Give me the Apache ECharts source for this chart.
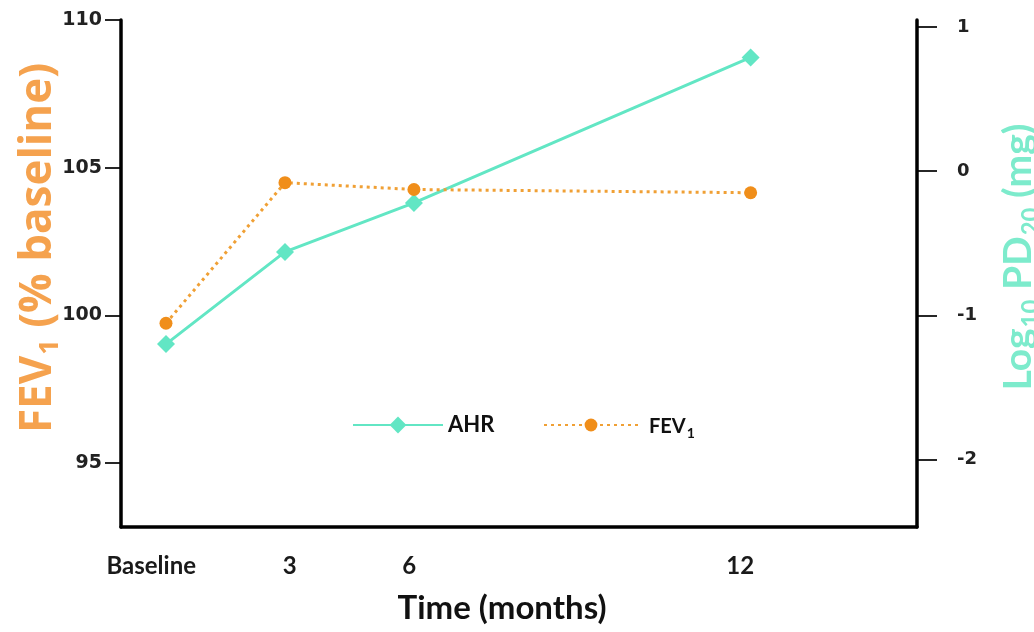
<!DOCTYPE html>
<html><head><meta charset="utf-8">
<script src="https://cdn.jsdelivr.net/npm/echarts@6/dist/echarts.min.js"></script>
<style>html,body{margin:0;padding:0;background:#fff}#c{width:1034px;height:632px}</style>
</head><body><div id="c"></div><script>
// ---- data ----
const categories = ['Baseline', '3', '6', '12'];
const fev1 = [99.73, 104.49, 104.26, 104.15];   // FEV1 (% baseline), left axis
const ahr = [-1.2, -0.56, -0.22, 0.79];          // Log10 PD20 (mg), right axis
const leftTicks = [95, 100, 105, 110];
const rightTicks = [-2, -1, 0, 1];

// ---- layout (horizontal slot of each time point, 0-100 across the plot) ----
const pointSlot = [5.65, 20.6, 36.8, 79.1];
const labelSlot = [3.8, 21.2, 36.2, 77.8];

const TEAL = '#62e6c4';
const TEAL_T = '#7debcc';
const ORANGE = '#f0a035';
const ORANGE_M = '#f08e1a';
const ORANGE_T = '#f5a24e';
const CAL = 'Lato, "Open Sans", sans-serif';
const WIDE = '"Open Sans", Lato, sans-serif';

const chart = echarts.init(document.getElementById('c'), null, {renderer: 'canvas'});
chart.setOption({
  animation: false,
  backgroundColor: '#fff',
  grid: {left: 121, right: 117, top: 20, bottom: 105, containLabel: false},
  xAxis: {
    type: 'value', min: 0, max: 100,
    axisLine: {show: true, onZero: false, lineStyle: {color: '#000', width: 3.5}},
    axisTick: {show: false},
    splitLine: {show: false},
    axisLabel: {
      customValues: labelSlot,
      margin: 27,
      color: '#1a1a1a', fontFamily: CAL, fontWeight: 'bold', fontSize: 24,
      formatter: v => {
        const i = labelSlot.findIndex(s => Math.abs(s - v) < 1e-6);
        return i >= 0 ? categories[i] : '';
      }
    }
  },
  yAxis: [
    {
      type: 'value', position: 'left', min: 92.83, max: 110,
      axisLine: {show: true, onZero: false, lineStyle: {color: '#000', width: 3.5}},
      axisTick: {show: true, customValues: leftTicks, length: 16, lineStyle: {color: '#000', width: 1.7}},
      axisLabel: {customValues: leftTicks, margin: 19, color: '#222', fontFamily: 'DejaVu Sans', fontWeight: 'bold', fontSize: 19},
      splitLine: {show: false}
    },
    {
      type: 'value', position: 'right', min: -2.47, max: 1.05,
      axisLine: {show: true, onZero: false, lineStyle: {color: '#000', width: 3.5}},
      axisTick: {show: true, customValues: rightTicks, length: 20, lineStyle: {color: '#000', width: 1.7}},
      axisLabel: {customValues: rightTicks, margin: 40, color: '#222', fontFamily: 'DejaVu Sans', fontWeight: 'bold', fontSize: 18},
      splitLine: {show: false}
    }
  ],
  legend: [
    {
      data: ['AHR'], left: 347, top: 409, itemWidth: 90, itemHeight: 21,
      textStyle: {color: '#111', fontFamily: CAL, fontWeight: 'bold', fontSize: 22}
    },
    {
      data: ['FEV1'], left: 538, top: 412, itemWidth: 94, itemHeight: 16,
      formatter: () => '{a|FEV}{s|1}',
      textStyle: {
        rich: {
          a: {color: '#111', fontFamily: CAL, fontWeight: 'bold', fontSize: 20, lineHeight: 24, verticalAlign: 'bottom', padding: [0, 0, 0, 6]},
          s: {color: '#111', fontFamily: CAL, fontWeight: 'bold', fontSize: 14, lineHeight: 24, verticalAlign: 'bottom', padding: [0, 0, -3, 1]}
        }
      }
    }
  ],
  series: [
    {
      name: 'AHR', type: 'line', yAxisIndex: 1,
      data: ahr.map((v, i) => [pointSlot[i], v]),
      symbol: 'diamond', symbolSize: 18,
      itemStyle: {color: TEAL},
      lineStyle: {color: TEAL, width: 3, type: 'solid'},
      z: 2
    },
    {
      name: 'FEV1', type: 'line', yAxisIndex: 0,
      data: fev1.map((v, i) => [pointSlot[i], v]),
      symbol: 'circle', symbolSize: 13,
      itemStyle: {color: ORANGE_M},
      lineStyle: {color: ORANGE, width: 3, type: [3, 4]},
      z: 3
    }
  ],
  graphic: [
    {
      type: 'text', x: 502, y: 608,
      style: {text: 'Time (months)', fill: '#111', font: 'bold 33px ' + CAL, textAlign: 'center', textVerticalAlign: 'middle'}
    },
    {
      type: 'text', x: 35, y: 248, rotation: Math.PI / 2,
      style: {
        text: '{a|FEV}{s|1}{a| (% baseline)}',
        textAlign: 'center', textVerticalAlign: 'middle',
        rich: {
          a: {fill: ORANGE_T, fontFamily: WIDE, fontWeight: 'bold', fontSize: 44, lineHeight: 50, verticalAlign: 'bottom'},
          s: {fill: ORANGE_T, fontFamily: WIDE, fontWeight: 'bold', fontSize: 27, lineHeight: 50, verticalAlign: 'bottom', padding: [0, 0, -4, 1]}
        }
      }
    },
    {
      type: 'text', x: 1015, y: 257, rotation: Math.PI / 2,
      style: {
        text: '{a|Log}{s|10}{a| PD}{s|20}{a| (mg)}',
        textAlign: 'center', textVerticalAlign: 'middle',
        rich: {
          a: {fill: TEAL_T, fontFamily: CAL, fontWeight: 'bold', fontSize: 39, lineHeight: 46, verticalAlign: 'bottom'},
          s: {fill: TEAL_T, fontFamily: CAL, fontWeight: 'bold', fontSize: 24, lineHeight: 46, verticalAlign: 'bottom', padding: [0, 0, -5, 1]}
        }
      }
    }
  ]
});
</script></body></html>
